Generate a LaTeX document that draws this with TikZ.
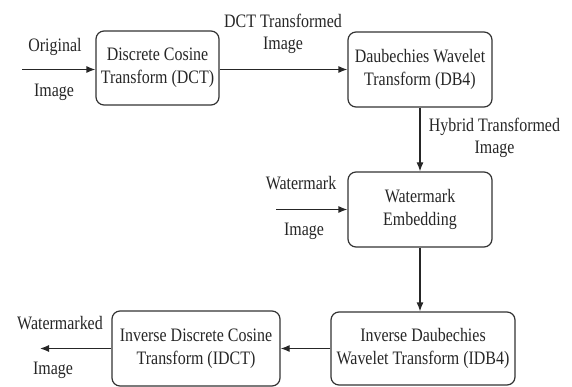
\documentclass[tikz,border=0pt]{standalone}
\usepackage{fontspec}
\setmainfont{Liberation Serif}[FakeStretch=0.84]
\usetikzlibrary{arrows.meta,calc}
\begin{document}
\begin{tikzpicture}[x=1pt,y=-1pt,
  every node/.style={font=\fontsize{19}{22.7}\selectfont, text=black!85},
  blockbox/.style={draw=black!80, line width=1.2pt, rounded corners=8pt, align=center, inner sep=0pt},
  lbl/.style={anchor=base, inner sep=0pt},
  mlbl/.style={align=center, inner sep=0pt},
  conn/.style={draw=black!85, line width=1.2pt, -{Latex[length=9pt,width=7pt]}}
]
\useasboundingbox (0,0) rectangle (572,387);

\node[blockbox, minimum width=123pt, minimum height=74pt] (dct) at (157.5,68) {Discrete Cosine\\Transform (DCT)};
\node[blockbox, minimum width=144pt, minimum height=75pt] (db4) at (420,69.5) {Daubechies Wavelet\\Transform (DB4)};
\node[blockbox, minimum width=144pt, minimum height=75pt] (wme) at (420,209.5) {Watermark\\Embedding};
\node[blockbox, minimum width=184pt, minimum height=73pt] (idb4) at (423,348.5) {Inverse Daubechies\\Wavelet Transform (IDB4)};
\node[blockbox, minimum width=168pt, minimum height=75pt] (idct) at (196,348.5) {Inverse Discrete Cosine\\Transform (IDCT)};

\coordinate (orig) at (22,69.5);
\coordinate (wmin) at (276,209.5);
\coordinate (wout) at (40,348.5);

\draw[conn] (orig) -- (orig -| dct.west);
\draw[conn] (dct.east |- db4.west) -- (db4.west);
\draw[conn] (db4.south) -- (wme.north);
\draw[conn] (wmin) -- (wme.west);
\draw[conn] (wme.south) -- (wme.south |- idb4.north);
\draw[conn] (idb4.west) -- (idct.east);
\draw[conn] (idct.west) -- (wout);

\node[lbl] (l1) at (55,51.7) {Original};
\node[lbl] (l2) at (54,96.5) {Image};
\node[mlbl] (l3) at (283,34) {DCT Transformed\\Image};
\node[mlbl] (l4) at (494.5,138) {Hybrid Transformed\\Image};
\node[lbl] (l5) at (301,190) {Watermark};
\node[lbl] (l6) at (304,235) {Image};
\node[lbl] (l7) at (60,329) {Watermarked};
\node[lbl] (l8) at (53,374) {Image};
\end{tikzpicture}
\end{document}
